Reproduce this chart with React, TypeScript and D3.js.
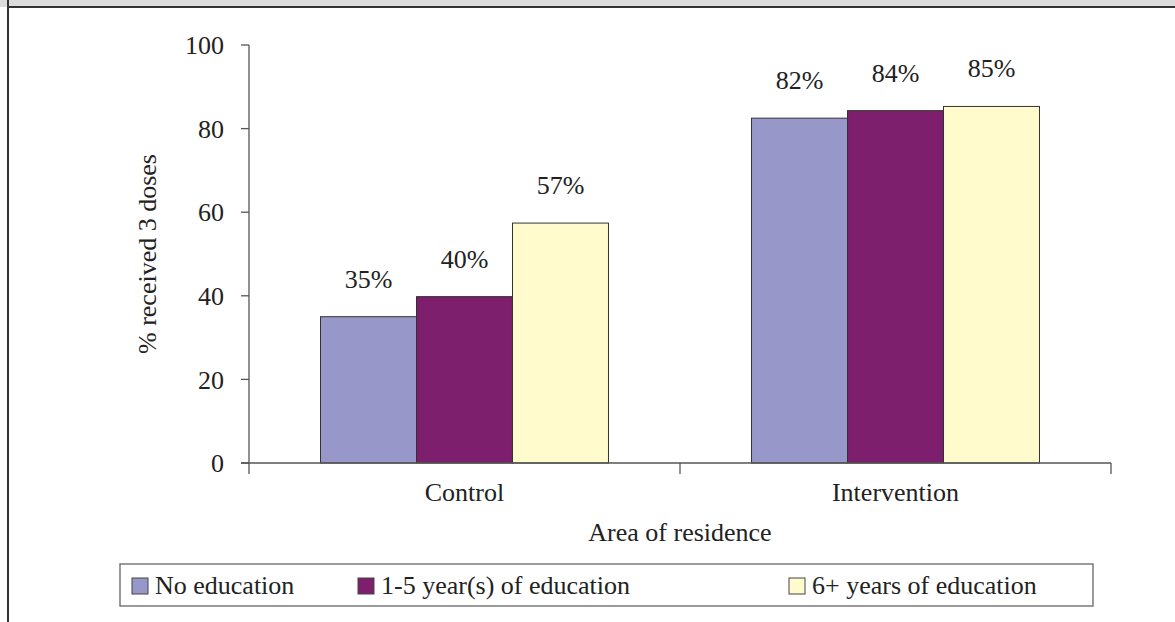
import React from "react";
import * as d3 from "d3";

const categories = ["Control", "Intervention"];
const seriesNames = ["No education", "1-5 year(s) of education", "6+ years of education"];
const noEducation = [35.0, 82.5];
const oneToFive = [39.8, 84.3];
const sixPlus = [57.4, 85.3];
const valueLabels = [["35%", "82%"], ["40%", "84%"], ["57%", "85%"]];
const yTicks = [0, 20, 40, 60, 80, 100];
const colors = ["#9797CA", "#7E1F6D", "#FFFBCD"];

const W = 1175;
const H = 622;
const FONT = "'Liberation Serif', 'Times New Roman', serif";

export default function App() {
  const series = [noEducation, oneToFive, sixPlus];
  const x0 = d3.scaleBand<string>().domain(categories).range([249, 1111]).paddingInner(0).paddingOuter(0);
  const x1 = d3
    .scaleBand<string>()
    .domain(seriesNames)
    .range([0, x0.bandwidth()])
    .paddingOuter(0.745)
    .paddingInner(0);
  const y = d3.scaleLinear().domain([0, 100]).range([463, 45]);

  const legendX = [132, 358, 789];

  return (
    <svg
      width={W}
      height={H}
      style={{ position: "absolute", left: 0, top: 0, background: "#fff" }}
      fontFamily={FONT}
    >
      {/* top band and frame */}
      <rect x={0} y={0} width={W} height={7} fill="#dcdcdc" />
      <line x1={8} x2={W} y1={7} y2={7} stroke="#333" strokeWidth={2} />
      <line x1={8} x2={8} y1={0} y2={H} stroke="#333" strokeWidth={2} />

      {/* bars */}
      {categories.map((c, ci) =>
        series.map((s, si) => {
          const bx = (x0(c) ?? 0) + (x1(seriesNames[si]) ?? 0);
          const bw = x1.bandwidth();
          const top = y(s[ci]);
          return (
            <g key={`${c}-${si}`}>
              <rect
                x={bx}
                y={top}
                width={bw}
                height={y(0) - top}
                fill={colors[si]}
                stroke="#333"
                strokeWidth={1}
              />
              <text
                x={bx + bw / 2}
                y={top - 29}
                textAnchor="middle"
                fontSize={26}
                fill="#222"
              >
                {valueLabels[si][ci]}
              </text>
            </g>
          );
        })
      )}

      {/* y axis */}
      <line x1={249} x2={249} y1={y(100)} y2={y(0)} stroke="#555" strokeWidth={1.3} />
      {yTicks.map((t) => (
        <g key={t}>
          <line x1={241} x2={249} y1={y(t)} y2={y(t)} stroke="#555" strokeWidth={1.3} />
          <text x={224} y={y(t)} dy="0.35em" textAnchor="end" fontSize={26} fill="#222">
            {t}
          </text>
        </g>
      ))}

      {/* x axis */}
      <line x1={241} x2={1111} y1={y(0)} y2={y(0)} stroke="#555" strokeWidth={1.3} />
      {[...categories.map((c) => x0(c) ?? 0), 1111].map((tx, i) => (
        <line key={i} x1={tx} x2={tx} y1={y(0)} y2={y(0) + 11} stroke="#555" strokeWidth={1.3} />
      ))}
      {categories.map((c) => (
        <text
          key={c}
          x={(x0(c) ?? 0) + x0.bandwidth() / 2}
          y={501}
          textAnchor="middle"
          fontSize={26}
          fill="#222"
        >
          {c}
        </text>
      ))}
      <text x={680} y={541} textAnchor="middle" fontSize={26} fill="#222">
        Area of residence
      </text>
      <text
        transform={`translate(147, ${(y(0) + y(100)) / 2}) rotate(-90)`}
        dy="0.35em"
        textAnchor="middle"
        fontSize={26}
        fill="#222"
      >
        % received 3 doses
      </text>

      {/* legend */}
      <rect x={120} y={564} width={973} height={42} fill="#fff" stroke="#666" strokeWidth={1.3} />
      {seriesNames.map((n, i) => (
        <g key={n}>
          <rect x={legendX[i]} y={578} width={16} height={16} fill={colors[i]} stroke="#444" strokeWidth={1} />
          <text x={legendX[i] + 23} y={594} fontSize={26} fill="#222">
            {n}
          </text>
        </g>
      ))}
    </svg>
  );
}
